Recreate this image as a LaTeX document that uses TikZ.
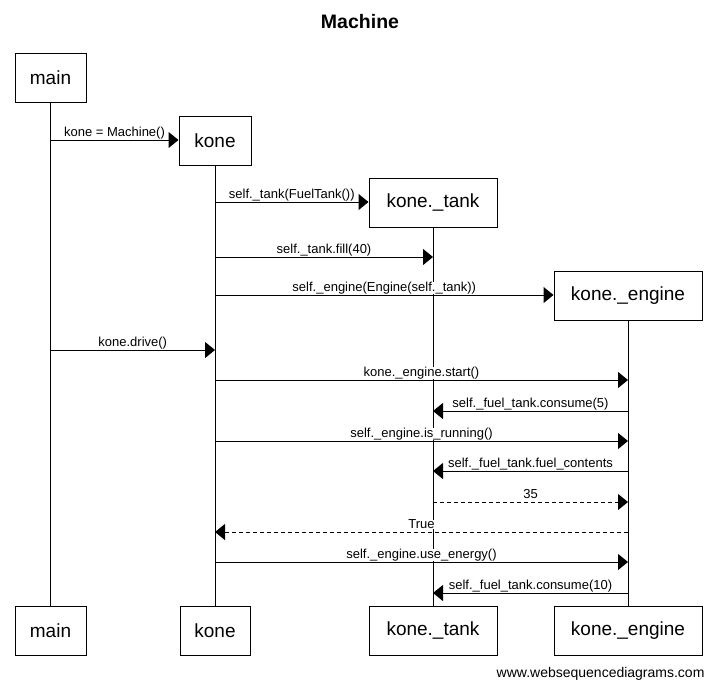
\documentclass[tikz,border=0pt]{standalone}
\usepackage{fontspec}
\setmainfont{Liberation Sans}
\usetikzlibrary{arrows.meta}

% one message: style, from node, to node, y, label
\newcommand\seqmsg[5]{%
  \path (#2 |- 0,#4) -- (#3 |- 0,#4) node[lbl] {#5};
  \draw[#1] (#2 |- 0,#4) -- (#3 |- 0,#4);%
}

\begin{document}
\begin{tikzpicture}[x=1pt,y=-1pt,
  actor/.style={draw, line width=1pt, fill=white, minimum height=49pt,
    inner sep=0pt, font=\fontsize{19}{22}\selectfont},
  life/.style={line width=1pt},
  msg/.style={line width=1pt, -{Triangle[length=10pt,width=16pt]}},
  reply/.style={msg, dash pattern=on 4pt off 3pt},
  lbl/.style={midway, anchor=base, yshift=3.5pt, fill=white, inner xsep=1pt,
    inner ysep=0pt, font=\fontsize{13}{15}\selectfont}
]
\useasboundingbox (0,0) rectangle (717,689);

\node[font=\bfseries\fontsize{19.5}{22}\selectfont] (title) at (360,22) {Machine};

% participants, head and foot
\node[actor, minimum width=71pt]  (main)    at (50.5,77.5) {main};
\node[actor, minimum width=72pt]  (kone)    at (215,140.5) {kone};
\node[actor, minimum width=128pt] (tank)    at (433,202.5) {kone.\_tank};
\node[actor, minimum width=148pt] (engine)  at (628,296)   {kone.\_engine};
\node[actor, minimum width=71pt]  (mainB)   at (50.5,630.5) {main};
\node[actor, minimum width=70pt]  (koneB)   at (215,630.5)  {kone};
\node[actor, minimum width=128pt] (tankB)   at (433,630.5)  {kone.\_tank};
\node[actor, minimum width=148pt] (engineB) at (628,630.5)  {kone.\_engine};

% lifelines
\draw[life] (main.south) -- (mainB.north);
\draw[life] (kone.south) -- (koneB.north);
\draw[life] (tank.south) -- (tankB.north);
\draw[life] (engine.south) -- (engineB.north);

% messages
\seqmsg{msg}{main}{kone.west}{140}{kone = Machine()}
\seqmsg{msg}{kone}{tank.west}{202}{self.\_tank(FuelTank())}
\seqmsg{msg}{kone}{tank}{257}{self.\_tank.fill(40)}
\seqmsg{msg}{kone}{engine.west}{295}{self.\_engine(Engine(self.\_tank))}
\seqmsg{msg}{main}{kone}{350}{kone.drive()}
\seqmsg{msg}{kone}{engine}{380}{kone.\_engine.start()}
\seqmsg{msg}{engine}{tank}{411}{self.\_fuel\_tank.consume(5)}
\seqmsg{msg}{kone}{engine}{441}{self.\_engine.is\_running()}
\seqmsg{msg}{engine}{tank}{471}{self.\_fuel\_tank.fuel\_contents}
\seqmsg{reply}{tank}{engine}{502}{35}
\seqmsg{reply}{engine}{kone}{532}{True}
\seqmsg{msg}{kone}{engine}{562}{self.\_engine.use\_energy()}
\seqmsg{msg}{engine}{tank}{593}{self.\_fuel\_tank.consume(10)}

\node[anchor=base east, font=\fontsize{14}{16}\selectfont] (site) at (708,677)
  {www.websequencediagrams.com};
\end{tikzpicture}
\end{document}
